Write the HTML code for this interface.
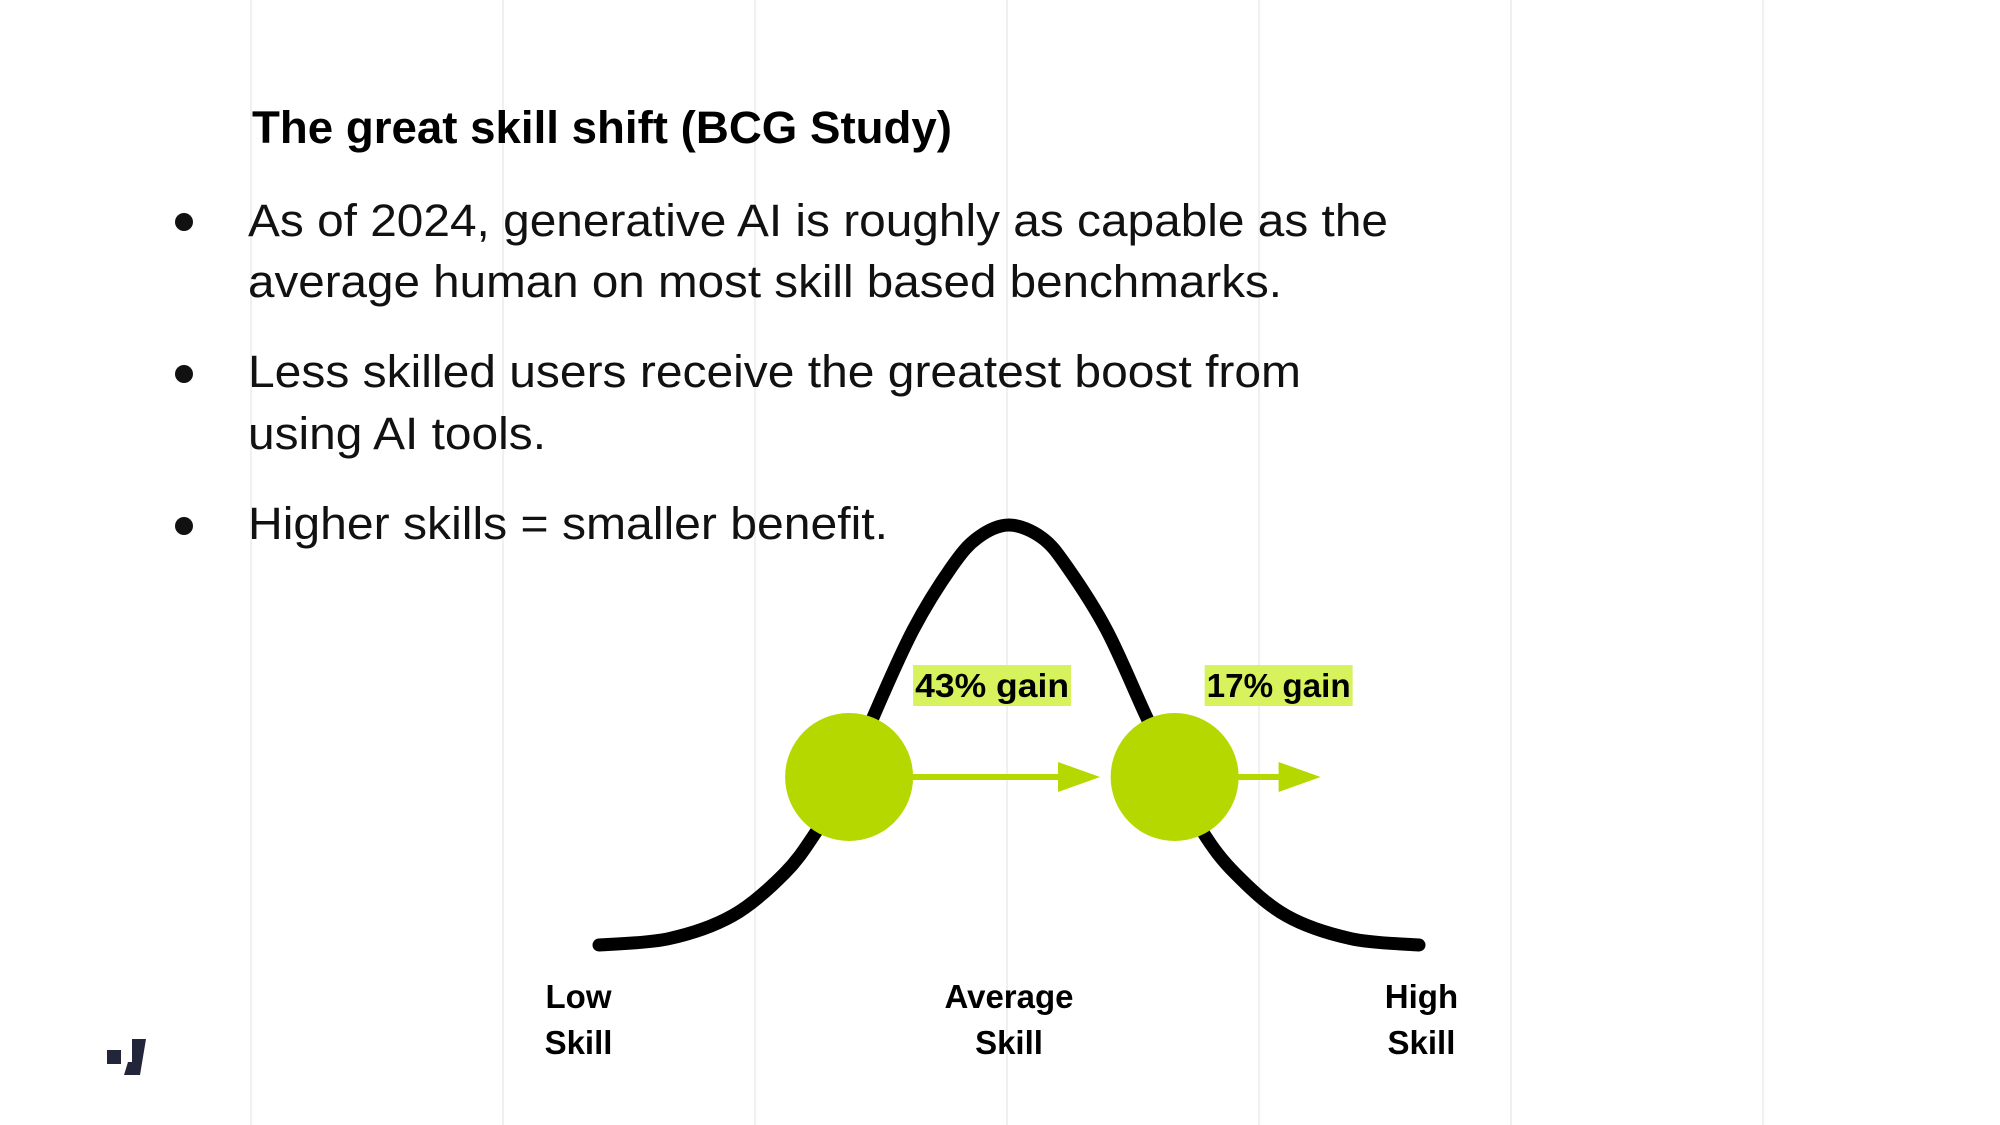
<!DOCTYPE html>
<html><head><meta charset="utf-8"><style>
html,body{margin:0;padding:0;background:#fff;}
svg{display:block;font-family:"Liberation Sans",sans-serif;}
</style></head><body>
<svg id="chart" width="2000" height="1125" viewBox="0 0 2000 1125" xmlns="http://www.w3.org/2000/svg">
<g id="grid"></g>
<text x="252" y="143" font-size="45" font-weight="bold" textLength="700" lengthAdjust="spacingAndGlyphs">The great skill shift (BCG Study)</text>
<g font-size="45" fill="#111">
<circle cx="184" cy="222" r="9" fill="#111"/>
<text x="248" y="236" textLength="1140" lengthAdjust="spacingAndGlyphs">As of 2024, generative AI is roughly as capable as the</text>
<text x="248" y="297" textLength="1034" lengthAdjust="spacingAndGlyphs">average human on most skill based benchmarks.</text>
<circle cx="184" cy="374" r="9" fill="#111"/>
<text x="248" y="387" textLength="1053" lengthAdjust="spacingAndGlyphs">Less skilled users receive the greatest boost from</text>
<text x="248" y="449" textLength="298" lengthAdjust="spacingAndGlyphs">using AI tools.</text>
<circle cx="184" cy="526" r="9" fill="#111"/>
<text x="248" y="539" textLength="640" lengthAdjust="spacingAndGlyphs">Higher skills = smaller benefit.</text>
</g>
<g id="plot"></g>
<g fill="#23263a">
<rect x="107" y="1050" width="14" height="14"/>
<polygon points="132,1039 146,1039 140,1075 124,1075 128,1062 132,1062"/>
</g>
</svg>
<script>
const curveX = [0, 8.5, 16.3, 22.6, 26.5, 30.5, 33.6, 38.3, 43, 46.2, 50, 54, 57.1, 61.9, 66.6, 70.2, 73.6, 77.6, 83.8, 91.7, 100];
const curveH = [0, 0.015, 0.07, 0.17, 0.27, 0.40, 0.55, 0.75, 0.90, 0.97, 1, 0.97, 0.90, 0.75, 0.55, 0.40, 0.27, 0.17, 0.07, 0.015, 0];
const markerX = [30.5, 70.2];
const markerH = [0.40, 0.40];
const gainLabels = ["43% gain", "17% gain"];
const arrowEndX = [61.1, 88];
const skillCategories = [["Low", "Skill"], ["Average", "Skill"], ["High", "Skill"]];
const categoryX = [-2.5, 50, 100.3];

const NS = "http://www.w3.org/2000/svg";
const X0 = 599, X1 = 1419, Y0 = 945, Y1 = 525;
function sx(v){ return X0 + v/100*(X1-X0); }
function sy(h){ return Y0 - h*(Y0-Y1); }
function mk(tag, attrs, parent){ const e=document.createElementNS(NS,tag); for(const k in attrs) e.setAttribute(k,attrs[k]); parent.appendChild(e); return e; }

const grid = document.getElementById('grid');
for (let i=0;i<7;i++){
  const l = mk('line',{x1:251+252*i,x2:251+252*i,y1:0,y2:1125,stroke:'#ececec','stroke-width':1.5},grid);
  
  
}

const plot = document.getElementById('plot');
const pts = curveX.map((x,i)=>[sx(x), sy(curveH[i])]);
let d = `M${pts[0][0]},${pts[0][1]}`;
for (let i=0;i<pts.length-1;i++){
  const p0=pts[Math.max(0,i-1)], p1=pts[i], p2=pts[i+1], p3=pts[Math.min(pts.length-1,i+2)];
  const c1=[p1[0]+(p2[0]-p0[0])/6, p1[1]+(p2[1]-p0[1])/6];
  const c2=[p2[0]-(p3[0]-p1[0])/6, p2[1]-(p3[1]-p1[1])/6];
  d += ` C${c1[0]},${c1[1]} ${c2[0]},${c2[1]} ${p2[0]},${p2[1]}`;
}
const curve = mk('path',{d:d,fill:'none',stroke:'#000','stroke-width':13,'stroke-linecap':'round','stroke-linejoin':'round'},plot);



for (let i=0;i<markerX.length;i++){
  const cx=sx(markerX[i]), cy=sy(markerH[i]), r=64;
  const ex=sx(arrowEndX[i]);
  const line = mk('line',{x1:cx+r-2,x2:ex-38,y1:cy,y2:cy,stroke:'#b5d900','stroke-width':6},plot);
  
  
  const head = mk('polygon',{points:`${ex-42},${cy-15} ${ex},${cy} ${ex-42},${cy+15}`,fill:'#b5d900'},plot);
  
  
  const c = mk('circle',{cx:cx,cy:cy,r:r,fill:'#b5d900'},plot);
  
  
  const lx = cx + r;
  const w = i===0 ? 158 : 148;
  const bx = i===0 ? lx : lx-34;
  const bg = mk('rect',{x:bx,y:665,width:w,height:41,fill:'#d6f25c'},plot);
  
  
  const t = mk('text',{x:bx+2,y:697,'font-size':33,'font-weight':'bold',textLength:w-4,lengthAdjust:'spacingAndGlyphs',fill:'#000'},plot);
  t.textContent = gainLabels[i];
  
  
}

for (let i=0;i<skillCategories.length;i++){
  for (let j=0;j<2;j++){
    const t = mk('text',{x:sx(categoryX[i]),y:1008+j*46,'font-size':33,'font-weight':'bold','text-anchor':'middle',fill:'#000'},plot);
    t.textContent = skillCategories[i][j];
    
    
  }
}
</script>
</body></html>
